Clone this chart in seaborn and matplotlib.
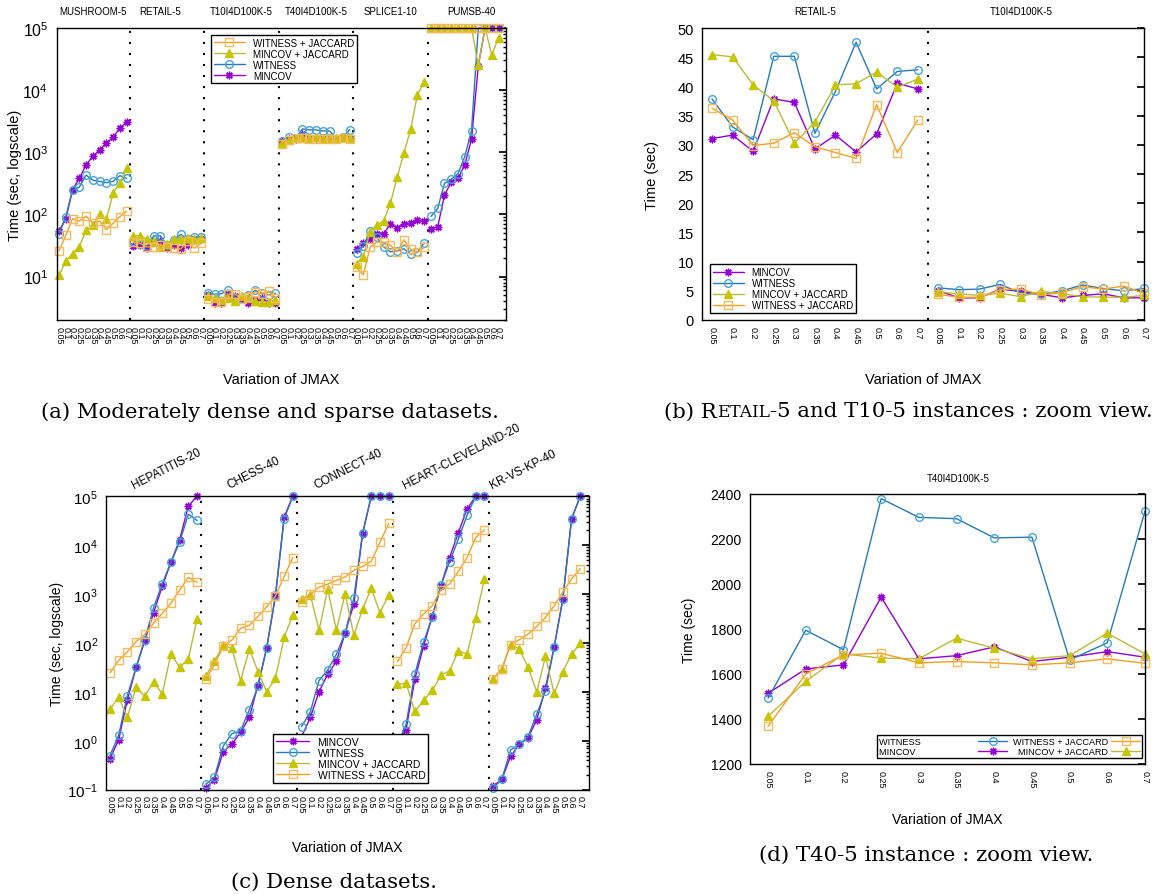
import numpy as np
import pandas as pd
import matplotlib
matplotlib.use("Agg")
import matplotlib.pyplot as plt
import matplotlib.transforms as mtransforms
from matplotlib.lines import Line2D
from matplotlib.ticker import LogLocator, NullFormatter, MultipleLocator
from matplotlib.offsetbox import TextArea, HPacker, AnnotationBbox
import seaborn as sns

# ---------------- data ----------------
JMAX = ["0.05", "0.1", "0.2", "0.25", "0.3", "0.35", "0.4", "0.45", "0.5", "0.6", "0.7"]
SERIES = ["MINCOV", "WITNESS", "MINCOV + JACCARD", "WITNESS + JACCARD"]

MUSHROOM_MINCOV = [54, 85, 250, 380, 630, 860, 1090, 1410, 1740, 2460, 3040]
MUSHROOM_WITNESS = [48, 92, 245, 275, 430, 355, 340, 325, 340, 420, 380]
MUSHROOM_MINCOV_J = [10.5, 17.8, 23.5, 30, 56, 67, 100, 83, 222, 325, 550]
MUSHROOM_WITNESS_J = [26, 46, 85, 78, 94, 72, 78, 57, 72, 92, 113]

RETAIL_MINCOV = [31.1, 31.7, 28.9, 37.9, 37.3, 29.3, 31.7, 28.8, 31.9, 40.6, 39.6]
RETAIL_WITNESS = [37.9, 33.1, 30.9, 45.2, 45.2, 32.0, 39.2, 47.6, 39.6, 42.6, 42.9]
RETAIL_MINCOV_J = [45.5, 45.1, 40.3, 37.6, 30.3, 33.9, 40.3, 40.5, 42.5, 39.9, 41.3]
RETAIL_WITNESS_J = [36.3, 34.3, 29.9, 30.3, 32.1, 29.7, 28.7, 27.7, 36.9, 28.7, 34.3]

T10_MINCOV = [5.0, 3.8, 3.8, 5.3, 4.9, 4.4, 3.8, 4.2, 4.5, 3.8, 3.8]
T10_WITNESS = [5.5, 5.2, 5.3, 6.1, 4.6, 4.4, 5.0, 6.0, 5.4, 5.0, 5.4]
T10_MINCOV_J = [4.8, 4.5, 4.2, 4.6, 4.0, 4.9, 4.5, 4.0, 3.9, 3.9, 4.2]
T10_WITNESS_J = [4.4, 3.9, 3.9, 5.2, 5.3, 4.3, 4.7, 5.7, 5.3, 5.8, 4.6]

T40_MINCOV = [1514, 1622, 1640, 1941, 1667, 1681, 1720, 1655, 1674, 1699, 1674]
T40_WITNESS = [1492, 1794, 1707, 2378, 2295, 2289, 2204, 2207, 1662, 1738, 2323]
T40_MINCOV_J = [1412, 1567, 1689, 1670, 1667, 1759, 1714, 1667, 1681, 1781, 1689]
T40_WITNESS_J = [1367, 1600, 1684, 1692, 1649, 1655, 1649, 1640, 1649, 1667, 1647]

SPLICE_MINCOV = [28, 35, 40, 48, 49, 70, 61, 70, 72, 82, 78]
SPLICE_WITNESS = [24, 31, 54, 43, 30, 25, 26, 28, 23, 24.5, 35]
SPLICE_MINCOV_J = [16, 21, 53, 67, 79, 150, 395, 975, 2330, 8400, 13700]
SPLICE_WITNESS_J = [14, 10.7, 29.5, 36, 36, 32, 25, 39, 27.5, 24.5, 29.5]

PUMSB_MINCOV = [59, 63, 205, 330, 380, 630, 1620, 24500, 1e5, 1e5, 1e5]
PUMSB_WITNESS = [93, 125, 316, 365, 455, 850, 2230, 1e5, 1e5, 1e5, 1e5]
PUMSB_MINCOV_J = [1e5, 1e5, 1e5, 1e5, 1e5, 1e5, 1e5, 25000, 1e5, 37000, 70000]
PUMSB_WITNESS_J = [1e5, 1e5, 1e5, 1e5, 1e5, 1e5, 1e5, 1e5, 1e5, 1e5, 1e5]

HEPATITIS_MINCOV = [0.43, 1.05, 6.9, 31.6, 112, 410, 1440, 4470, 12900, 63000, 1e5]
HEPATITIS_WITNESS = [0.5, 1.3, 8.4, 31.6, 117, 520, 1630, 4470, 11500, 43000, 32000]
HEPATITIS_MINCOV_J = [4.4, 7.8, 3.0, 12.4, 8.1, 16.2, 9.1, 60, 32, 47, 310]
HEPATITIS_WITNESS_J = [24.5, 44, 66, 107, 150, 253, 405, 650, 1210, 2200, 1740]

CHESS_MINCOV = [0.11, 0.16, 0.6, 0.85, 1.5, 3.0, 14, 80, 900, 38000, 1e5]
CHESS_WITNESS = [0.13, 0.18, 0.78, 1.4, 1.6, 4.3, 13, 80, 950, 35000, 1e5]
CHESS_MINCOV_J = [21, 42, 90, 78, 17, 75, 26, 10, 19, 130, 380]
CHESS_WITNESS_J = [18, 36, 85, 115, 200, 230, 350, 550, 900, 2300, 5600]

CONNECT_MINCOV = [1.2, 3.0, 10, 23, 42, 160, 620, 17000, 1e5, 1e5, 1e5]
CONNECT_WITNESS = [1.95, 3.9, 17, 28, 59, 160, 830, 17500, 1e5, 1e5, 1e5]
CONNECT_MINCOV_J = [810, 980, 182, 1250, 182, 1020, 145, 490, 1310, 420, 950]
CONNECT_WITNESS_J = [700, 990, 1380, 1600, 1910, 2240, 3060, 3700, 4670, 11400, 28000]

HEART_MINCOV = [0.88, 1.7, 18, 85, 350, 1480, 5600, 18000, 55000, 1e5, 1e5]
HEART_WITNESS = [0.8, 2.2, 23, 103, 340, 1500, 4600, 13200, 41000, 1e5, 1e5]
HEART_MINCOV_J = [14.2, 15, 4.0, 6.7, 10.7, 22, 27, 70, 59, 330, 2030]
HEART_WITNESS_J = [42, 80, 245, 390, 575, 1230, 1620, 2900, 5600, 14400, 20700]

KRVSKP_MINCOV = [0.117, 0.165, 0.48, 0.85, 1.15, 2.7, 12, 83, 800, 35000, 1e5]
KRVSKP_WITNESS = [0.107, 0.165, 0.65, 0.85, 1.2, 3.5, 10.4, 83, 800, 35000, 1e5]
KRVSKP_MINCOV_J = [18.7, 30, 93, 76, 32, 10, 53, 9.3, 26, 59, 98]
KRVSKP_WITNESS_J = [18.7, 29, 93, 117, 152, 218, 333, 575, 1110, 2040, 3330]

DATA = {
    "MUSHROOM-5": (MUSHROOM_MINCOV, MUSHROOM_WITNESS, MUSHROOM_MINCOV_J, MUSHROOM_WITNESS_J),
    "RETAIL-5": (RETAIL_MINCOV, RETAIL_WITNESS, RETAIL_MINCOV_J, RETAIL_WITNESS_J),
    "T10I4D100K-5": (T10_MINCOV, T10_WITNESS, T10_MINCOV_J, T10_WITNESS_J),
    "T40I4D100K-5": (T40_MINCOV, T40_WITNESS, T40_MINCOV_J, T40_WITNESS_J),
    "SPLICE1-10": (SPLICE_MINCOV, SPLICE_WITNESS, SPLICE_MINCOV_J, SPLICE_WITNESS_J),
    "PUMSB-40": (PUMSB_MINCOV, PUMSB_WITNESS, PUMSB_MINCOV_J, PUMSB_WITNESS_J),
    "HEPATITIS-20": (HEPATITIS_MINCOV, HEPATITIS_WITNESS, HEPATITIS_MINCOV_J, HEPATITIS_WITNESS_J),
    "CHESS-40": (CHESS_MINCOV, CHESS_WITNESS, CHESS_MINCOV_J, CHESS_WITNESS_J),
    "CONNECT-40": (CONNECT_MINCOV, CONNECT_WITNESS, CONNECT_MINCOV_J, CONNECT_WITNESS_J),
    "HEART-CLEVELAND-20": (HEART_MINCOV, HEART_WITNESS, HEART_MINCOV_J, HEART_WITNESS_J),
    "KR-VS-KP-40": (KRVSKP_MINCOV, KRVSKP_WITNESS, KRVSKP_MINCOV_J, KRVSKP_WITNESS_J),
}

GROUPS_A = ["MUSHROOM-5", "RETAIL-5", "T10I4D100K-5", "T40I4D100K-5", "SPLICE1-10", "PUMSB-40"]
GROUPS_B = ["RETAIL-5", "T10I4D100K-5"]
GROUPS_C = ["HEPATITIS-20", "CHESS-40", "CONNECT-40", "HEART-CLEVELAND-20", "KR-VS-KP-40"]
GROUPS_D = ["T40I4D100K-5"]

# ---------------- style ----------------
STYLE = {
    "MINCOV": dict(line="#9400D3", marker=(8, 2, 0), mfc="#9400D3", mec="#9400D3", ms=5.5),
    "WITNESS": dict(line="#2a78b6", marker="o", mfc="none", mec="#45a3dc", ms=5.5),
    "MINCOV + JACCARD": dict(line="#baba3a", marker="^", mfc="#c6c600", mec="#c6c600", ms=5.5),
    "WITNESS + JACCARD": dict(line="#f0a024", marker="s", mfc="none", mec="#f6b95c", ms=5.5),
}

sns.set_theme(style="white")
plt.rcParams["font.family"] = ["Liberation Sans", "DejaVu Sans"]
plt.rcParams.update({
    "axes.edgecolor": "black", "axes.linewidth": 1.0,
    "xtick.color": "black", "ytick.color": "black",
    "text.color": "black", "axes.labelcolor": "black",
    "legend.fancybox": False, "mathtext.default": "regular",
})

W, H = 1167, 895
fig = plt.figure(figsize=(W / 100, H / 100), dpi=100)


def px_axes(l, t, r, b):
    return fig.add_axes([l / W, 1 - b / H, (r - l) / W, (b - t) / H])


def long_frame(groups):
    rows = []
    n = len(JMAX)
    for gi, g in enumerate(groups):
        for s, vals in zip(SERIES, DATA[g]):
            for j, v in enumerate(vals):
                rows.append(dict(group=g, series=s, pos=gi * n + j, jmax=JMAX[j], time=v))
    return pd.DataFrame(rows)


def draw_lines(ax, df):
    for g in df["group"].unique():
        for s in SERIES:
            sub = df[(df["group"] == g) & (df["series"] == s)]
            st = STYLE[s]
            sns.lineplot(data=sub, x="pos", y="time", ax=ax, color=st["line"],
                         marker=st["marker"], markersize=st["ms"],
                         markerfacecolor=st["mfc"], markeredgecolor=st["mec"],
                         markeredgewidth=1.0, linewidth=1.0, legend=False,
                         estimator=None, sort=False, errorbar=None, clip_on=False)


def handle(s):
    st = STYLE[s]
    return Line2D([], [], color=st["line"], marker=st["marker"], markersize=st["ms"],
                  markerfacecolor=st["mfc"], markeredgecolor=st["mec"],
                  markeredgewidth=1.0, linewidth=1.0)


def style_axes(ax, ngroups, xlim, ylabel, ylabel_x, xlabel_y, ytick_size, label_size):
    n = len(JMAX)
    ax.set_xlim(*xlim)
    pos = list(range(ngroups * n))
    ax.set_xticks(pos)
    ax.set_xticklabels(JMAX * ngroups, rotation=-90, fontsize=6.5)
    for k in range(1, ngroups):
        ax.axvline(k * n - 0.5, color="black", linestyle=(0, (1, 4.3)), linewidth=1.5, zorder=1)
    ax.tick_params(axis="both", which="both", direction="in", top=False, right=True)
    ax.tick_params(axis="x", which="major", length=4, pad=4)
    ax.tick_params(axis="y", which="major", length=5, pad=6, labelsize=ytick_size)
    ax.tick_params(axis="y", which="minor", length=2.5)
    for sp in ax.spines.values():
        sp.set_visible(True)
        sp.set_color("black")
        sp.set_linewidth(1.0)
    ax.set_ylabel(ylabel, va="center", fontsize=label_size)
    ax.yaxis.set_label_coords(ylabel_x, 0.5)
    ax.set_xlabel("Variation of JMAX", va="center", fontsize=label_size)
    ax.xaxis.set_label_coords(0.5, xlabel_y)


def log_axis(ax, lo, hi):
    ax.set_yscale("log")
    ax.set_ylim(lo, hi)
    ax.yaxis.set_major_locator(LogLocator(base=10, numticks=10))
    ax.yaxis.set_minor_locator(LogLocator(base=10, subs=np.arange(2, 10), numticks=20))
    ax.yaxis.set_minor_formatter(NullFormatter())


def legend(ax, order, loc, anchor, size):
    lg = ax.legend([handle(s) for s in order], order, loc=loc,
                   bbox_to_anchor=anchor, fontsize=size, frameon=True, framealpha=1,
                   edgecolor="black", handlelength=3.2, handletextpad=0.8,
                   labelspacing=0.1, borderpad=0.3, borderaxespad=0)
    lg.get_frame().set_linewidth(1.0)
    lg.set_zorder(10)
    return lg


# ---------------- panel (a) ----------------
ax_a = px_axes(56.6, 29, 506, 321)
df_a = long_frame(GROUPS_A)
draw_lines(ax_a, df_a)
log_axis(ax_a, 2, 1e5)
style_axes(ax_a, 6, (-0.36, 66.1), "Time (sec, logscale)", -0.093, -0.202, 11.5, 10.5)
trans_a = mtransforms.blended_transform_factory(ax_a.transData, ax_a.transAxes)
for g, xp in zip(GROUPS_A, [5, 15, 27, 38, 49, 61]):
    ax_a.text(xp, 1.058, g, transform=trans_a, ha="center", va="center", fontsize=7)
legend(ax_a, ["WITNESS + JACCARD", "MINCOV + JACCARD", "WITNESS", "MINCOV"],
       "upper left", (0.3436, 0.977), 7)

# ---------------- panel (b) ----------------
ax_b = px_axes(702.3, 29.3, 1144.3, 321)
df_b = long_frame(GROUPS_B)
draw_lines(ax_b, df_b)
ax_b.set_ylim(0, 50)
ax_b.yaxis.set_major_locator(MultipleLocator(5))
style_axes(ax_b, 2, (-0.47, 21), "Time (sec)", -0.113, -0.202, 10.5, 10.5)
trans_b = mtransforms.blended_transform_factory(ax_b.transData, ax_b.transAxes)
for g, xp in zip(GROUPS_B, [5, 15]):
    ax_b.text(xp, 1.058, g, transform=trans_b, ha="center", va="center", fontsize=7)
legend(ax_b, SERIES, "lower left", (0.017, 0.024), 7)

# ---------------- panel (c) ----------------
ax_c = px_axes(106.3, 497.3, 589, 790.7)
df_c = long_frame(GROUPS_C)
draw_lines(ax_c, df_c)
log_axis(ax_c, 0.1, 1e5)
style_axes(ax_c, 5, (-0.42, 55), "Time (sec, logscale)", -0.1015, -0.196, 11, 10)
trans_c = mtransforms.blended_transform_factory(ax_c.transData, ax_c.transAxes)
for g, xp in zip(GROUPS_C, [2.9, 13.9, 23.9, 34.0, 44.0]):
    ax_c.text(xp, 1.018, g, transform=trans_c, ha="left", va="bottom", rotation=27,
              rotation_mode="anchor", fontsize=8.5)
legend(ax_c, SERIES, "lower left", (0.345, 0.023), 7.5)

# ---------------- panel (d) ----------------
ax_d = px_axes(750, 494.7, 1145, 765)
df_d = long_frame(GROUPS_D)
draw_lines(ax_d, df_d)
ax_d.set_ylim(1200, 2400)
ax_d.yaxis.set_major_locator(MultipleLocator(200))
style_axes(ax_d, 1, (-0.48, 10), "Time (sec)", -0.155, -0.2035, 10, 10)
ax_d.text(0.527, 1.058, "T40I4D100K-5", transform=ax_d.transAxes, ha="center",
          va="center", fontsize=7)
order_d = ["WITNESS", "MINCOV", "WITNESS + JACCARD", "MINCOV + JACCARD"]
labels_d = ["WITNESS" + " " * 22, "MINCOV" + " " * 24, "WITNESS + JACCARD", "MINCOV + JACCARD"]
lg_d = ax_d.legend([handle(s) for s in order_d], labels_d, loc="lower left",
                   bbox_to_anchor=(0.321, 0.022), fontsize=6.6, ncol=2, markerfirst=False,
                   frameon=True, framealpha=1, edgecolor="black", handlelength=3.2,
                   handletextpad=0.3, labelspacing=0.1, borderpad=0.2, borderaxespad=0,
                   columnspacing=0.6)
lg_d.get_frame().set_linewidth(1.0)

# ---------------- captions ----------------
SERIF = "DejaVu Serif"
CAP = 15.3
fig.text(270 / W, 1 - 412 / H, "(a) Moderately dense and sparse datasets.",
         ha="center", va="center", fontsize=CAP, family=SERIF)
parts = [TextArea("(b) R", textprops=dict(size=CAP, family=SERIF)),
         TextArea("ETAIL", textprops=dict(size=CAP * 0.8, family=SERIF)),
         TextArea("-5 and T10-5 instances : zoom view.", textprops=dict(size=CAP, family=SERIF))]
box = HPacker(children=parts, align="baseline", pad=0, sep=0)
ab = AnnotationBbox(box, (908 / W, 1 - 412 / H), xycoords="figure fraction",
                    frameon=False, box_alignment=(0.5, 0.5))
fig.add_artist(ab)
fig.text(334 / W, 1 - 882 / H, "(c) Dense datasets.", ha="center", va="center",
         fontsize=CAP, family=SERIF)
fig.text(926 / W, 1 - 855 / H, "(d) T40-5 instance : zoom view.", ha="center",
         va="center", fontsize=CAP, family=SERIF)

fig.savefig("out.png", dpi=100, facecolor="white")
